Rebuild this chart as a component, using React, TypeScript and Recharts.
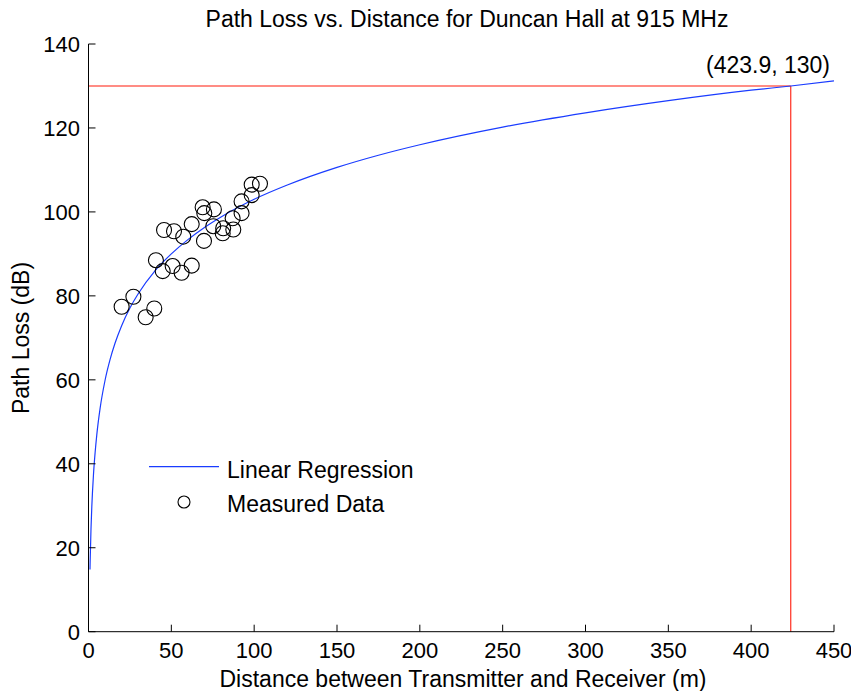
import React from 'react';
import {
  ComposedChart,
  Line,
  Scatter,
  XAxis,
  YAxis,
  ReferenceLine,
  ReferenceDot,
  Legend,
} from 'recharts';

const measuredDistance = [
  20.0, 27.1, 34.5, 39.7, 40.7, 44.8, 50.8, 56.2, 62.3, 45.6, 51.6, 57.2, 62.3, 69.7,
  68.9, 69.9, 75.7, 75.3, 81.3, 81.0, 87.4, 87.0, 92.4, 92.4, 98.5, 98.5, 103.5,
];
const measuredLoss = [
  77.4, 79.8, 74.9, 77.0, 88.5, 85.9, 87.1, 85.5, 87.2, 95.7, 95.4, 94.1, 97.1, 93.1,
  101.1, 99.7, 100.6, 96.6, 96.1, 94.9, 95.8, 98.5, 99.7, 102.5, 104.0, 106.5, 106.7,
];

// Regression curve, values
const curveDistance = [
  0.9, 1, 1.5, 2, 3, 4, 5, 7, 10, 13, 16, 20, 25, 30, 40, 50, 60, 70, 80, 100, 120, 150,
  175, 200, 250, 300, 350, 400, 423.9, 450,
];
const curveLoss = [
  14.8, 16.8, 24.4, 29.8, 37.4, 42.7, 46.9, 53.2, 59.9, 64.8, 68.7, 72.9, 77.1, 80.5,
  85.9, 90.0, 93.4, 96.3, 98.8, 103.0, 106.4, 110.6, 113.5, 116.0, 120.2, 123.6, 126.5,
  129.0, 130.0, 131.2,
];

const xTicks = [0, 50, 100, 150, 200, 250, 300, 350, 400, 450];
const yTicks = [0, 20, 40, 60, 80, 100, 120, 140];

const markX = 423.9;
const markY = 130;
const markLabel = '(423.9, 130)';

const measured = measuredDistance.map((d, i) => ({ d, pl: measuredLoss[i] }));
const curve = curveDistance.map((d, i) => ({ d, pl: curveLoss[i] }));

const FONT = '"Liberation Sans", Arial, Helvetica, sans-serif';
const FS = 23;
const TFS = 22;
const TICK = 7;
const BLUE = '#1a3cff';
const RED = '#ff1a0a';

const W = 843;
const H = 683;

const BottomTick = (p: any) => (
  <g>
    <line x1={p.x} x2={p.x} y1={p.y} y2={p.y - TICK} stroke="#000" strokeWidth={1} />
    <text x={p.x} y={p.y + 26.6} textAnchor="middle" fontSize={TFS} fontFamily={FONT} fill="#000">
      {p.payload.value}
    </text>
  </g>
);
const TopTick = (p: any) => (
  <line x1={p.x} x2={p.x} y1={p.y} y2={p.y + TICK} stroke="#000" strokeWidth={1} />
);
const LeftTick = (p: any) => (
  <g>
    <line x1={p.x} x2={p.x + TICK} y1={p.y} y2={p.y} stroke="#000" strokeWidth={1} />
    <text x={p.x - 8.5} y={p.y + 8} textAnchor="end" fontSize={TFS} fontFamily={FONT} fill="#000">
      {p.payload.value}
    </text>
  </g>
);
const RightTick = (p: any) => (
  <line x1={p.x} x2={p.x - TICK} y1={p.y} y2={p.y} stroke="#000" strokeWidth={1} />
);

const CircleShape = (p: any) => (
  <circle cx={p.cx} cy={p.cy} r={7.5} fill="none" stroke="#000" strokeWidth={1.1} />
);

const LegendContent = () => (
  <svg width={320} height={72} style={{ display: 'block', overflow: 'visible' }}>
    <line x1={9} x2={79} y1={16.7} y2={16.7} stroke={BLUE} strokeWidth={1.2} />
    <text x={87} y={28} fontSize={FS} fontFamily={FONT} fill="#000">
      Linear Regression
    </text>
    <circle cx={44} cy={52} r={6} fill="none" stroke="#000" strokeWidth={1.1} />
    <text x={87} y={61.7} fontSize={FS} fontFamily={FONT} fill="#000">
      Measured Data
    </text>
  </svg>
);

const MarkLabel = (p: any) => (
  <text x={p.cx - 4} y={p.cy - 13} textAnchor="end" fontSize={FS} fontFamily={FONT} fill="#000">
    {markLabel}
  </text>
);

export default function App() {
  return (
    <div style={{ position: 'relative', width: W, height: H, background: '#fff' }}>
      <ComposedChart
        width={W}
        height={H}
        margin={{ top: 36, right: 17, bottom: 19.3, left: 20.5 }}
      >
        <XAxis
          dataKey="d"
          type="number"
          domain={[0, 450]}
          ticks={xTicks}
          interval={0}
          allowDataOverflow
          height={40}
          tickSize={0}
          tickMargin={0}
          tickLine={false}
          tick={BottomTick}
          axisLine={{ stroke: '#000', strokeWidth: 1 }}
        />
        <XAxis
          xAxisId="top"
          orientation="top"
          dataKey="d"
          type="number"
          domain={[0, 450]}
          ticks={xTicks}
          interval={0}
          allowDataOverflow
          height={0}
          tickSize={0}
          tickMargin={0}
          tickLine={false}
          tick={TopTick}
          axisLine={{ stroke: '#000', strokeWidth: 1 }}
        />
        <YAxis
          type="number"
          domain={[0, 140]}
          ticks={yTicks}
          interval={0}
          allowDataOverflow
          width={60}
          tickSize={0}
          tickMargin={0}
          tickLine={false}
          tick={LeftTick}
          axisLine={{ stroke: '#000', strokeWidth: 1 }}
        />
        <YAxis
          yAxisId="right"
          orientation="right"
          type="number"
          domain={[0, 140]}
          ticks={yTicks}
          interval={0}
          allowDataOverflow
          width={0}
          tickSize={0}
          tickMargin={0}
          tickLine={false}
          tick={RightTick}
          axisLine={{ stroke: '#000', strokeWidth: 1 }}
        />
        <ReferenceLine
          segment={[{ x: 0, y: markY }, { x: markX, y: markY }]}
          stroke={RED}
          strokeWidth={1.1}
        />
        <ReferenceLine
          segment={[{ x: markX, y: 0 }, { x: markX, y: markY }]}
          stroke={RED}
          strokeWidth={1.1}
        />
        <Line
          data={curve}
          dataKey="pl"
          type="monotone"
          stroke={BLUE}
          strokeWidth={1.2}
          dot={false}
          activeDot={false}
          isAnimationActive={false}
          name="Linear Regression"
        />
        <Scatter
          data={measured}
          dataKey="pl"
          shape={CircleShape}
          isAnimationActive={false}
          name="Measured Data"
        />
        <ReferenceDot x={450} y={markY} r={0} shape={MarkLabel} />
        <Legend
          layout="horizontal"
          verticalAlign="middle"
          align="center"
          content={LegendContent}
          wrapperStyle={{ position: 'absolute', left: 132, top: 442, width: 320, height: 72 }}
        />
      </ComposedChart>
      <svg
        width={859}
        height={691}
        style={{ position: 'absolute', left: -8, top: -8, pointerEvents: 'none' }}
      >
        <text x={467} y={26.7} textAnchor="middle" fontSize={FS} fontFamily={FONT} fill="#000">
          Path Loss vs. Distance for Duncan Hall at 915 MHz
        </text>
        <text x={463} y={687} textAnchor="middle" fontSize={FS} fontFamily={FONT} fill="#000">
          Distance between Transmitter and Receiver (m)
        </text>
        <text
          x={0}
          y={0}
          transform="translate(29,338) rotate(-90)"
          textAnchor="middle"
          fontSize={FS}
          fontFamily={FONT}
          fill="#000"
        >
          Path Loss (dB)
        </text>
      </svg>
    </div>
  );
}
